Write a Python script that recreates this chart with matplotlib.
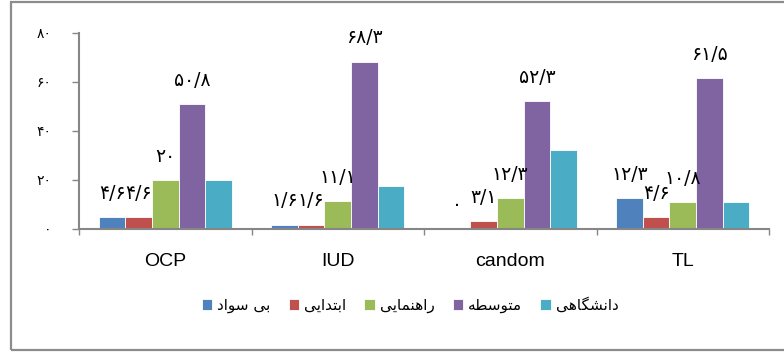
import matplotlib
matplotlib.use("Agg")
import matplotlib.pyplot as plt
from matplotlib.patches import Rectangle
import numpy as np

plt.rcParams['font.family'] = ['Liberation Sans', 'DejaVu Sans']

# Data
methods = ["OCP", "IUD", "candom", "TL"]
education = ["بی سواد", "ابتدایی", "راهنمایی", "متوسطه", "دانشگاهی"]
illiterate = [4.6, 1.6, 0, 12.3]
primary = [4.6, 1.6, 3.1, 4.6]
guidance = [20, 11.1, 12.3, 10.8]
secondary = [50.8, 68.3, 52.3, 61.5]
university = [20, 17.5, 32.2, 10.8]
series = [illiterate, primary, guidance, secondary, university]
labelled = [True, True, True, True, False]
y_ticks = [0, 20, 40, 60, 80]

colors = ["#4F81BD", "#C0504D", "#9BBB59", "#8064A2", "#4BACC6"]

PERSIAN_DIGITS = str.maketrans("0123456789.", "۰۱۲۳۴۵۶۷۸۹/")


def fa_num(v):
    s = str(int(v)) if float(v).is_integer() else f"{v:.1f}"
    return s.translate(PERSIAN_DIGITS)


# Minimal Arabic-script shaping (contextual forms + visual order)
FORMS = {  # isolated, final, initial, medial
    "ا": ("\uFE8D", "\uFE8E", None, None),
    "ب": ("\uFE8F", "\uFE90", "\uFE91", "\uFE92"),
    "ت": ("\uFE95", "\uFE96", "\uFE97", "\uFE98"),
    "د": ("\uFEA9", "\uFEAA", None, None),
    "ر": ("\uFEAD", "\uFEAE", None, None),
    "س": ("\uFEB1", "\uFEB2", "\uFEB3", "\uFEB4"),
    "ش": ("\uFEB5", "\uFEB6", "\uFEB7", "\uFEB8"),
    "ط": ("\uFEC1", "\uFEC2", "\uFEC3", "\uFEC4"),
    "م": ("\uFEE1", "\uFEE2", "\uFEE3", "\uFEE4"),
    "ن": ("\uFEE5", "\uFEE6", "\uFEE7", "\uFEE8"),
    "ه": ("\uFEE9", "\uFEEA", "\uFEEB", "\uFEEC"),
    "و": ("\uFEED", "\uFEEE", None, None),
    "ی": ("\uFBFC", "\uFBFD", "\uFBFE", "\uFBFF"),
    "گ": ("\uFB92", "\uFB93", "\uFB94", "\uFB95"),
}


def shape(text):
    out = []
    for i, ch in enumerate(text):
        if ch not in FORMS:
            out.append(ch)
            continue
        prev = text[i - 1] if i > 0 else None
        nxt = text[i + 1] if i + 1 < len(text) else None
        joins_prev = prev in FORMS and FORMS[prev][2] is not None
        joins_next = FORMS[ch][2] is not None and nxt in FORMS
        iso, fin, ini, med = FORMS[ch]
        if joins_prev and joins_next:
            out.append(med)
        elif joins_prev:
            out.append(fin)
        elif joins_next:
            out.append(ini)
        else:
            out.append(iso)
    return "".join(out)[::-1]


fig = plt.figure(figsize=(7.84, 3.54), dpi=100)
ax = fig.add_axes([79 / 784, 1 - 228.5 / 354, 690 / 784, (228.5 - 33) / 354])

x = np.arange(len(methods))
width = 0.154
for i, (vals, c) in enumerate(zip(series, colors)):
    pos = x + (i - 2) * width
    ax.bar(pos, vals, width, color=c, edgecolor="white", linewidth=0.6,
           label=shape(education[i]), zorder=2)
    if labelled[i]:
        for xp, v in zip(pos, vals):
            ax.annotate(fa_num(v), (xp, v), xytext=(0, 17), textcoords="offset points",
                        ha="center", va="center", fontsize=13.5, family="DejaVu Sans")

ax.set_xlim(-0.5, len(methods) - 0.5)
ax.set_ylim(0, 80)
ax.set_yticks(y_ticks)
ax.set_yticklabels([fa_num(t) for t in y_ticks], family="DejaVu Sans", fontsize=10)
ax.tick_params(axis="y", length=5, width=1, color="#868686", pad=15)

ax.set_xticks(np.arange(-0.5, len(methods)), minor=False)
ax.set_xticklabels([])
ax.set_xticks(x, minor=True)
ax.set_xticklabels(methods, minor=True, fontsize=14)
ax.tick_params(axis="x", which="major", length=4, width=1, color="#868686")
ax.tick_params(axis="x", which="minor", length=0, pad=18)

for side in ("top", "right"):
    ax.spines[side].set_visible(False)
for side in ("left", "bottom"):
    ax.spines[side].set_color("#868686")
    ax.spines[side].set_linewidth(1.5)

leg = fig.legend(loc="center", bbox_to_anchor=(0.523, 1 - 305 / 354), ncol=5,
                 frameon=False, handlelength=0.7, handleheight=0.7,
                 handletextpad=0.3, columnspacing=1.2,
                 prop={"family": "DejaVu Sans", "size": 11})

fig.patches.append(Rectangle((10.5 / 784, 4.5 / 354), 1.0, 348 / 354,
                             transform=fig.transFigure, fill=False,
                             edgecolor="#8c8c8c", linewidth=1.6))

fig.savefig("out.png", dpi=100)
